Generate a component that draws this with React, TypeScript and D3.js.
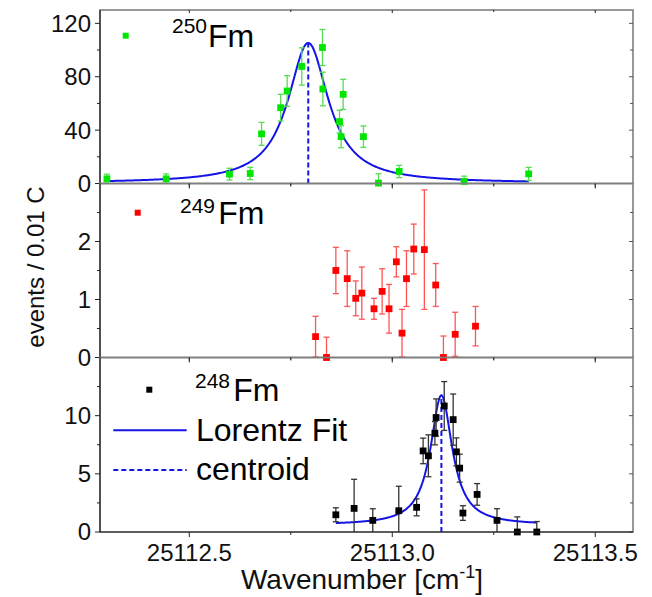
import { useEffect, useRef } from "react";
import * as d3 from "d3";

// 250Fm (green)
const fm250X = [25112.297, 25112.443, 25112.599, 25112.65, 25112.678, 25112.725, 25112.741, 25112.777, 25112.828, 25112.829, 25112.87, 25112.874, 25112.879, 25112.929, 25112.966, 25113.017, 25113.177, 25113.336];
const fm250Y = [3.5, 3.5, 7, 7.5, 37.2, 56.8, 69.3, 87.7, 101.9, 70.8, 46.4, 35.1, 66.8, 35.1, 0.3, 9, 1.5, 7.2];
const fm250Err = [3.5, 3.7, 4.4, 4.6, 8.6, 10, 11.5, 14, 13.5, 12.6, 8.5, 8.3, 11.3, 8, 7, 4.6, 4, 4.9];

// 249Fm (red)
const fm249X = [25112.811, 25112.838, 25112.861, 25112.889, 25112.91, 25112.925, 25112.955, 25112.975, 25112.992, 25113.01, 25113.024, 25113.035, 25113.053, 25113.079, 25113.107, 25113.126, 25113.155, 25113.205];
const fm249Y = [0.36, 0, 1.5, 1.36, 1.02, 1.11, 0.84, 1.14, 0.84, 1.65, 0.42, 1.36, 1.87, 1.86, 1.25, 0, 0.4, 0.54];
const fm249Err = [0.35, 0.35, 0.4, 0.48, 0.3, 0.45, 0.18, 0.39, 0.42, 0.26, 0.41, 0.48, 0.43, 1.03, 0.37, 0.37, 0.38, 0.34];

// 248Fm (black)
const fm248X = [25112.861, 25112.906, 25112.952, 25113.016, 25113.06, 25113.076, 25113.089, 25113.105, 25113.108, 25113.128, 25113.15, 25113.158, 25113.166, 25113.174, 25113.209, 25113.258, 25113.308, 25113.356];
const fm248Y = [1.48, 2.03, 1.0, 1.83, 2.12, 6.97, 6.55, 8.49, 9.84, 10.83, 9.66, 6.89, 5.49, 1.63, 3.23, 1.0, 0, 0];
const fm248Err = [0.6, 2.5, 1.0, 2.1, 0.73, 1.1, 1.8, 1.0, 1.6, 2.1, 2.2, 1.2, 1.2, 0.63, 0.93, 1.0, 1.3, 0.9];

// Lorentz fit parameters [centroid, fwhm, height, offset, from, to]
const fit250 = [25112.793, 0.121, 105, 0.3, 25112.297, 25113.336];
const fit248 = [25113.121, 0.065, 11.15, 0.6, 25112.861, 25113.356];

const xMajorTicks = [25112.5, 25113.0, 25113.5];
const xMinorTicks = [25112.75, 25113.25];
const yTicks250 = [0, 40, 80, 120];
const yMinor250 = [20, 60, 100];
const yTicks249 = [0, 1, 2];
const yMinor249 = [0.5, 1.5, 2.5];
const yTicks248 = [0, 5, 10];
const yMinor248 = [2.5, 7.5, 12.5];

const FONT = "'Liberation Sans', Arial, sans-serif";
const BLUE = "#1414e6";

export default function App() {
  const ref = useRef<SVGSVGElement>(null);

  useEffect(() => {
    const svg = d3.select(ref.current);
    svg.selectAll("*").remove();

    const left = 100;
    const right = 633;
    const x = d3.scaleLinear([25112.28, 25113.593], [left, right]);

    const panels = [
      { top: 10, bottom: 183.5, domain: [0, 130], xs: fm250X, ys: fm250Y, errs: fm250Err, ticks: yTicks250, minor: yMinor250, color: "#00e600", errColor: "#55dd55", fit: fit250, iso: "250", legend: [125.7, 35.7, 172, 33.3, 208, 46.7] },
      { top: 183.5, bottom: 357.5, domain: [0, 3], xs: fm249X, ys: fm249Y, errs: fm249Err, ticks: yTicks249, minor: yMinor249, color: "#ff0000", errColor: "#ff5555", fit: null, iso: "249", legend: [137.7, 212.7, 180, 213.3, 218.3, 224] },
      { top: 357.5, bottom: 532, domain: [0, 15], xs: fm248X, ys: fm248Y, errs: fm248Err, ticks: yTicks248, minor: yMinor248, color: "#000000", errColor: "#333333", fit: fit248, iso: "248", legend: [149.3, 389.7, 195, 388.3, 233.3, 400.7] },
    ];

    panels.forEach((p, pi) => {
      const y = d3.scaleLinear(p.domain, [p.bottom, p.top]);
      const g = svg.append("g");

      // cadre
      g.append("rect")
        .attr("x", left)
        .attr("y", p.top)
        .attr("width", right - left)
        .attr("height", p.bottom - p.top)
        .attr("fill", "none")
        .attr("stroke", "#7f7f7f")
        .attr("stroke-width", 1.6);
      g.append("line")
        .attr("x1", left).attr("x2", left)
        .attr("y1", p.top).attr("y2", p.bottom)
        .attr("stroke", "#222").attr("stroke-width", 1.2);

      // ticks en y
      p.ticks.forEach((t) => {
        g.append("line")
          .attr("x1", left - 5).attr("x2", left)
          .attr("y1", y(t)).attr("y2", y(t))
          .attr("stroke", "#222");
        g.append("line")
          .attr("x1", right - 4).attr("x2", right)
          .attr("y1", y(t)).attr("y2", y(t))
          .attr("stroke", "#555");
        g.append("text")
          .attr("x", left - 9)
          .attr("y", y(t))
          .attr("dy", "0.35em")
          .attr("text-anchor", "end")
          .attr("font-family", FONT)
          .attr("font-size", 24)
          .attr("fill", "#111")
          .text(t);
      });
      p.minor.forEach((t) => {
        g.append("line")
          .attr("x1", left - 3).attr("x2", left)
          .attr("y1", y(t)).attr("y2", y(t))
          .attr("stroke", "#222");
        g.append("line")
          .attr("x1", right - 3).attr("x2", right)
          .attr("y1", y(t)).attr("y2", y(t))
          .attr("stroke", "#555");
      });

      // ticks en x (haut vers l'intérieur, bas vers l'extérieur)
      xMajorTicks.forEach((t) => {
        g.append("line")
          .attr("x1", x(t)).attr("x2", x(t))
          .attr("y1", p.bottom).attr("y2", p.bottom + 5)
          .attr("stroke", "#222");
        g.append("line")
          .attr("x1", x(t)).attr("x2", x(t))
          .attr("y1", p.top).attr("y2", p.top + 3)
          .attr("stroke", "#222");
      });
      xMinorTicks.forEach((t) => {
        g.append("line")
          .attr("x1", x(t)).attr("x2", x(t))
          .attr("y1", p.bottom).attr("y2", p.bottom + 3)
          .attr("stroke", "#222");
        g.append("line")
          .attr("x1", x(t)).attr("x2", x(t))
          .attr("y1", p.top).attr("y2", p.top + 2)
          .attr("stroke", "#222");
      });

      // fit de Lorentz + centroïde
      if (p.fit) {
        const [xc, w, h, y0, from, to] = p.fit;
        const lorentz = (v: number) => y0 + (h * (w / 2) ** 2) / ((v - xc) ** 2 + (w / 2) ** 2);
        const pts = d3.range(0, 401).map((i) => from + ((to - from) * i) / 400);
        g.append("path")
          .attr("d", d3.line<number>().x((v) => x(v)).y((v) => y(lorentz(v)))(pts))
          .attr("fill", "none")
          .attr("stroke", BLUE)
          .attr("stroke-width", 2);
        g.append("line")
          .attr("x1", x(xc)).attr("x2", x(xc))
          .attr("y1", y(0)).attr("y2", y(y0 + h))
          .attr("stroke", BLUE)
          .attr("stroke-width", 2)
          .attr("stroke-dasharray", "5 3");
      }

      // barres d'erreur
      p.xs.forEach((xv, i) => {
        const v = p.ys[i];
        const e = p.errs[i];
        const lo = Math.max(0, v - e);
        const hi = v + e;
        g.append("line")
          .attr("x1", x(xv)).attr("x2", x(xv))
          .attr("y1", y(lo)).attr("y2", y(hi))
          .attr("stroke", p.errColor)
          .attr("stroke-width", 1.3);
        g.append("line")
          .attr("x1", x(xv) - 3).attr("x2", x(xv) + 3)
          .attr("y1", y(hi)).attr("y2", y(hi))
          .attr("stroke", p.errColor)
          .attr("stroke-width", 1.3);
        if (v - e > 0) {
          g.append("line")
            .attr("x1", x(xv) - 3).attr("x2", x(xv) + 3)
            .attr("y1", y(lo)).attr("y2", y(lo))
            .attr("stroke", p.errColor)
            .attr("stroke-width", 1.3);
        }
      });

      // points
      p.xs.forEach((xv, i) => {
        g.append("rect")
          .attr("x", x(xv) - 3.4)
          .attr("y", y(p.ys[i]) - 3.4)
          .attr("width", 6.8)
          .attr("height", 6.8)
          .attr("fill", p.color);
      });

      // légende
      const [mx, my, sx, sy, fx, fy] = p.legend;
      g.append("rect")
        .attr("x", mx - 3)
        .attr("y", my - 3)
        .attr("width", 6)
        .attr("height", 6)
        .attr("fill", p.color);
      g.append("text")
        .attr("x", sx).attr("y", sy)
        .attr("font-family", FONT)
        .attr("font-size", 21)
        .attr("fill", "#000")
        .text(p.iso);
      g.append("text")
        .attr("x", fx).attr("y", fy)
        .attr("font-family", FONT)
        .attr("font-size", 32)
        .attr("fill", "#000")
        .text("Fm");

      if (pi === 2) {
        g.append("line")
          .attr("x1", 113.3).attr("x2", 186.7)
          .attr("y1", 430.3).attr("y2", 430.3)
          .attr("stroke", BLUE).attr("stroke-width", 2);
        g.append("text")
          .attr("x", 196).attr("y", 440.7)
          .attr("font-family", FONT).attr("font-size", 32)
          .text("Lorentz Fit");
        g.append("line")
          .attr("x1", 113.3).attr("x2", 186.7)
          .attr("y1", 470).attr("y2", 470)
          .attr("stroke", BLUE).attr("stroke-width", 2)
          .attr("stroke-dasharray", "5 3");
        g.append("text")
          .attr("x", 196).attr("y", 480)
          .attr("font-family", FONT).attr("font-size", 32)
          .text("centroid");

        // axe x du bas
        g.append("line")
          .attr("x1", left).attr("x2", right)
          .attr("y1", p.bottom).attr("y2", p.bottom)
          .attr("stroke", "#222").attr("stroke-width", 1.2);
        xMajorTicks.forEach((t) => {
          g.append("text")
            .attr("x", x(t)).attr("y", 560.7)
            .attr("text-anchor", "middle")
            .attr("font-family", FONT).attr("font-size", 24)
            .attr("fill", "#111")
            .text(t.toFixed(1));
        });
      }
    });

    // titres des axes
    const xTitle = svg.append("text")
      .attr("x", 362).attr("y", 589)
      .attr("text-anchor", "middle")
      .attr("font-family", FONT).attr("font-size", 28)
      .attr("fill", "#111");
    xTitle.append("tspan").text("Wavenumber [cm");
    xTitle.append("tspan").attr("font-size", 18).attr("dy", -11).text("-1");
    xTitle.append("tspan").attr("dy", 11).text("]");

    svg.append("text")
      .attr("transform", "translate(44,267) rotate(-90)")
      .attr("text-anchor", "middle")
      .attr("font-family", FONT).attr("font-size", 24)
      .attr("fill", "#111")
      .text("events / 0.01 C");
  }, []);

  return (
    <svg
      ref={ref}
      width={652}
      height={597}
      style={{ position: "absolute", left: 0, top: 0, background: "#fff" }}
    />
  );
}
